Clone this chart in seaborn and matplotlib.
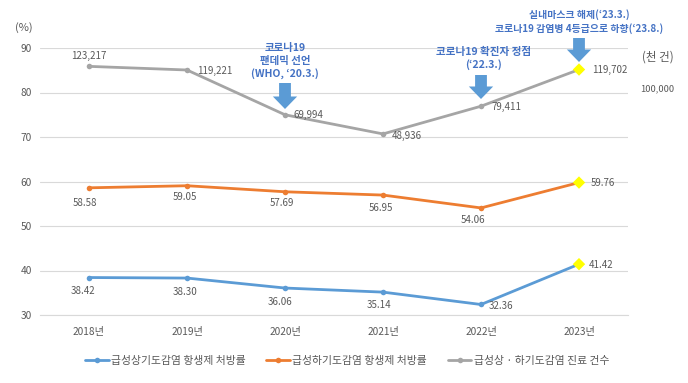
import matplotlib
matplotlib.use("Agg")
import matplotlib.pyplot as plt
import seaborn as sns
import pandas as pd
import numpy as np

# ---------------- data ----------------
years = ["2018년", "2019년", "2020년", "2021년", "2022년", "2023년"]
upper_rate = [38.42, 38.30, 36.06, 35.14, 32.36, 41.42]
lower_rate = [58.58, 59.05, 57.69, 56.95, 54.06, 59.76]
visits = [123217, 119221, 69994, 48936, 79411, 119702]
upper_labels = ["38.42", "38.30", "36.06", "35.14", "32.36", "41.42"]
lower_labels = ["58.58", "59.05", "57.69", "56.95", "54.06", "59.76"]
visit_labels = ["123,217", "119,221", "69,994", "48,936", "79,411", "119,702"]
series_names = ["급성상기도감염 항생제 처방률", "급성하기도감염 항생제 처방률", "급성상 · 하기도감염 진료 건수"]
left_ticks = [30, 40, 50, 60, 70, 80, 90]
right_ticks = [100000]
right_tick_labels = ["100,000"]
events = [
    (2, "코로나19\n팬데믹 선언\n(WHO, ‘20.3.)"),
    (4, "코로나19 확진자 정점\n(‘22.3.)"),
    (5, "실내마스크 해제(‘23.3.)\n코로나19 감염병 4등급으로 하향(‘23.8.)"),
]

df = pd.DataFrame({"year": years, "x": np.arange(len(years)),
                   "upper": upper_rate, "lower": lower_rate, "visits": visits})
last = df.iloc[[-1]]

# ---------------- style ----------------
sns.set_style("white")
plt.rcParams["font.family"] = ["Noto Sans CJK KR", "DejaVu Sans"]
plt.rcParams["axes.unicode_minus"] = False

BLUE = "#5B9BD5"
ORANGE = "#ED7D31"
GRAY = "#A5A5A5"
TXT = "#595959"
ANN = "#4472C4"
ARROW = "#5B9BD5"
GRID = "#D9D9D9"

W, H = 688, 383
fig = plt.figure(figsize=(W / 100, H / 100), dpi=100)
ax = fig.add_axes([40 / W, 1 - 315 / H, (628 - 40) / W, (315 - 48) / H])
ax2 = ax.twinx()

# ---------------- lines ----------------
sns.lineplot(data=df, x="x", y="upper", ax=ax, color=BLUE, lw=2, marker="o",
             markersize=4, markeredgewidth=0, label=series_names[0], legend=False)
sns.lineplot(data=df, x="x", y="lower", ax=ax, color=ORANGE, lw=2, marker="o",
             markersize=4, markeredgewidth=0, label=series_names[1], legend=False)
sns.lineplot(data=df, x="x", y="visits", ax=ax2, color=GRAY, lw=2, marker="o",
             markersize=4, markeredgewidth=0, label=series_names[2], legend=False)
sns.scatterplot(data=last, x="x", y="upper", ax=ax, color="#FFFF00", marker="D",
                s=40, edgecolor="none", zorder=5, legend=False)
sns.scatterplot(data=last, x="x", y="lower", ax=ax, color="#FFFF00", marker="D",
                s=40, edgecolor="none", zorder=5, legend=False)
sns.scatterplot(data=last, x="x", y="visits", ax=ax2, color="#FFFF00", marker="D",
                s=40, edgecolor="none", zorder=5, legend=False)

# ---------------- axes ----------------
ax.set_xlim(-0.5, 5.5)
ax.set_ylim(30, 90)
ax2.set_ylim(-150100, 143400)
ax.set_yticks(left_ticks)
ax.set_yticklabels([str(t) for t in left_ticks], fontsize=7.3, color=TXT)
ax.set_xticks(df["x"])
ax.set_xticklabels(years, fontsize=7.3, color=TXT)
ax.set_xticks(np.arange(-0.5, 6.0, 1.0), minor=True)
ax.tick_params(axis="x", which="major", length=0, pad=9)
ax.tick_params(axis="x", which="minor", length=4, color=GRID, width=0.8)
ax.tick_params(axis="y", length=0, pad=6)
ax.set_xlabel("")
ax.set_ylabel("")
ax2.set_ylabel("")
ax.grid(axis="y", color=GRID, lw=0.8)
ax.set_axisbelow(True)
for a in (ax, ax2):
    for s in ("top", "right", "left", "bottom"):
        a.spines[s].set_visible(False)
ax.spines["bottom"].set_visible(True)
ax.spines["bottom"].set_color(GRID)
ax.spines["bottom"].set_linewidth(0.8)
ax2.set_yticks(right_ticks)
ax2.set_yticklabels(right_tick_labels, fontsize=6.7, color=TXT)
ax2.tick_params(axis="y", length=0, pad=9)

fig.text(24 / W, 1 - 28 / H, "(%)", fontsize=8, color=TXT, ha="center", va="center")
fig.text(658 / W, 1 - 57 / H, "(천 건)", fontsize=8.3, color=TXT, ha="center", va="center")

# ---------------- data labels ----------------
PX = 0.72  # px -> points
up_off = [(-6, -13, "center"), (-2, -14, "center"), (-5, -14, "center"),
          (-4, -13, "center"), (8, -2, "left"), (10, -1, "left")]
lo_off = [(-4, -15, "center"), (-2, -11, "center"), (-3, -11, "center"),
          (-2, -13, "center"), (-8, -12, "center"), (12, 0, "left")]
vi_off = [(0, 10, "center"), (10, -1, "left"), (9, 0, "left"),
          (9, -2, "left"), (10, -1, "left"), (13, 0, "left")]
for i in range(len(years)):
    dx, dy, ha = up_off[i]
    ax.annotate(upper_labels[i], (df["x"][i], upper_rate[i]), xytext=(dx * PX, dy * PX),
                textcoords="offset points", ha=ha, va="center", fontsize=7, color=TXT)
    dx, dy, ha = lo_off[i]
    ax.annotate(lower_labels[i], (df["x"][i], lower_rate[i]), xytext=(dx * PX, dy * PX),
                textcoords="offset points", ha=ha, va="center", fontsize=7, color=TXT)
    dx, dy, ha = vi_off[i]
    ax2.annotate(visit_labels[i], (df["x"][i], visits[i]), xytext=(dx * PX, dy * PX),
                 textcoords="offset points", ha=ha, va="center", fontsize=7, color=TXT)

# ---------------- event annotations ----------------
def ypix(p):
    return 30 + (315 - p) / 4.45

arrow_px = {2: (83, 109), 4: (75, 99), 5: (38, 62)}
text_pos = {2: (0.0, 61, 7.5), 4: (0.03, 58.5, 7.6), 5: (0.0, 21.5, 7.1)}
for xi, txt in events:
    top, tip = arrow_px[xi]
    ax.annotate("", xy=(xi, ypix(tip)), xytext=(xi, ypix(top)),
                arrowprops=dict(arrowstyle="simple,head_width=1.75,head_length=0.9,tail_width=0.85",
                                mutation_scale=10, color=ARROW, shrinkA=0, shrinkB=0, lw=0),
                annotation_clip=False, zorder=6)
    dxx, ty, fs = text_pos[xi]
    ax.text(xi + dxx, ypix(ty), txt, ha="center", va="center", fontsize=fs,
            fontweight="bold", color=ANN, linespacing=1.3, clip_on=False)

# ---------------- legend ----------------
h1 = ax.get_lines()[0]
h2 = ax.get_lines()[1]
h3 = ax2.get_lines()[0]
fig.legend([h1, h2, h3], series_names, loc="center", bbox_to_anchor=(347 / W, 1 - 361 / H),
           ncol=3, frameon=False, fontsize=7.8, handlelength=2.2, handletextpad=0.2,
           columnspacing=1.9, labelcolor=TXT)

fig.savefig("out.png", dpi=100)
